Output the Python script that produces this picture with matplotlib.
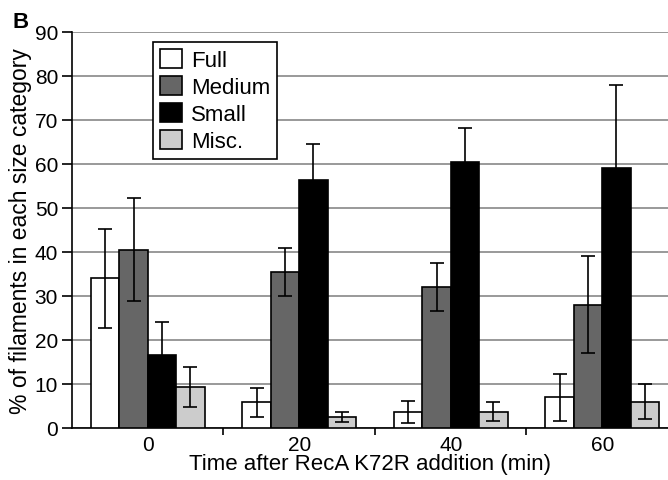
import matplotlib.pyplot as plt
import numpy as np

plt.rcParams['font.family'] = ['Liberation Sans', 'DejaVu Sans']

times = ['0', '20', '40', '60']
labels = ['Full', 'Medium', 'Small', 'Misc.']
colors = ['white', '#666666', 'black', '#cccccc']

full = [34.0, 5.8, 3.7, 7.0]
medium = [40.5, 35.5, 32.0, 28.0]
small = [16.5, 56.3, 60.5, 59.0]
misc = [9.3, 2.5, 3.7, 6.0]

full_err = [11.2, 3.4, 2.5, 5.3]
medium_err = [11.7, 5.5, 5.4, 11.0]
small_err = [7.5, 8.2, 7.6, 19.0]
misc_err = [4.6, 1.1, 2.2, 3.9]

fig = plt.figure(figsize=(6.68, 4.81), dpi=100)
ax = fig.add_axes([72 / 668, 1 - 429 / 481, 1 - 72 / 668, 396 / 481])

x = np.arange(len(times))
w = 0.188
series = [full, medium, small, misc]
errs = [full_err, medium_err, small_err, misc_err]
for i, (vals, err) in enumerate(zip(series, errs)):
    ax.bar(x + (i - 1.5) * w, vals, w, color=colors[i], edgecolor='black',
           linewidth=1.2, label=labels[i], zorder=3)
    ax.errorbar(x + (i - 1.5) * w, vals, yerr=err, fmt='none', ecolor='black',
                elinewidth=1.2, capsize=5, capthick=1.2, zorder=4)

ax.set_ylim(0, 90)
ax.set_xlim(-0.5, 3.434)
ax.set_yticks(range(0, 91, 10))
ax.yaxis.grid(True, color='#888888', linewidth=1.2, zorder=0)
ax.set_xticks(x)
ax.set_xticklabels(times)
ax.set_xticks(np.arange(0.5, 3, 1), minor=True)
ax.tick_params(axis='x', which='major', length=0, labelsize=15, pad=5)
ax.tick_params(axis='x', which='minor', length=5, width=1.2, direction='out')
ax.tick_params(axis='y', length=7, width=1.2, direction='out', labelsize=15, pad=3)
for s in ['top', 'right']:
    ax.spines[s].set_visible(False)
for s in ['left', 'bottom']:
    ax.spines[s].set_linewidth(1.2)

ax.set_xlabel('Time after RecA K72R addition (min)', fontsize=16, labelpad=-1)
ax.set_ylabel('% of filaments in each size category', fontsize=16.5, labelpad=2)

leg = ax.legend(loc='upper left', bbox_to_anchor=(0.136, 0.975), fontsize=16,
                frameon=True, fancybox=False, edgecolor='black', framealpha=1,
                handlelength=1.0, handleheight=1.0, handletextpad=0.4,
                labelspacing=0.2, borderpad=0.3, borderaxespad=0)
leg.get_frame().set_linewidth(1.2)

fig.text(12 / 668, 1 - 22 / 481, 'B', fontsize=16, fontweight='bold', va='center')

fig.savefig('out.png', dpi=100)
